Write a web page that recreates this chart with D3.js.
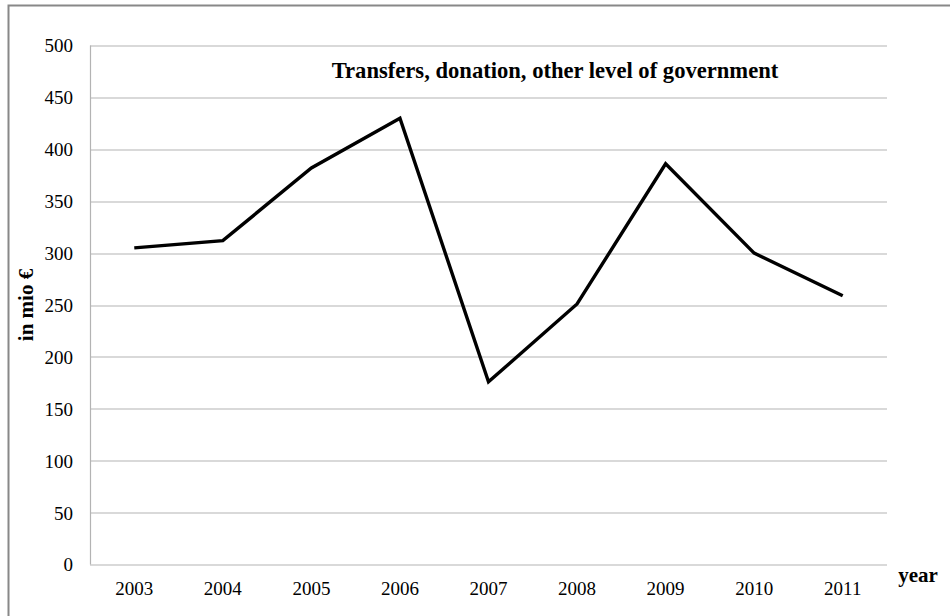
<!DOCTYPE html>
<html>
<head>
<meta charset="utf-8">
<script src="https://d3js.org/d3.v7.min.js"></script>
<style>
  body { margin: 0; background: #fff; }
  svg text { font-family: "Liberation Serif", "Times New Roman", serif; fill: #000; }
</style>
</head>
<body>
<div id="svg-chart"></div>
<script>
// chart data
var years = ["2003", "2004", "2005", "2006", "2007", "2008", "2009", "2010", "2011"];
var transfers = [305, 312, 382, 430, 176, 251, 386, 300, 259];
var yTicks = [0, 50, 100, 150, 200, 250, 300, 350, 400, 450, 500];

var svgWidth = 950, svgHeight = 616;
var chartMargin = { top: 45.5, bottom: 51.5, left: 90, right: 63 };
var chartHeight = svgHeight - chartMargin.top - chartMargin.bottom;
var chartWidth = svgWidth - chartMargin.left - chartMargin.right;

var svg = d3.select("#svg-chart")
    .append("svg")
    .attr("width", svgWidth)
    .attr("height", svgHeight);

// outer frame (right and bottom edge fall off the picture)
svg.append("rect")
    .attr("x", 8.5).attr("y", 5.5)
    .attr("width", 960).attr("height", 640)
    .attr("fill", "none")
    .attr("stroke", "#888")
    .attr("stroke-width", 2);

var chartGroup = svg.append("g")
    .attr("transform", `translate(${chartMargin.left}, ${chartMargin.top})`);

var xScale = d3.scaleBand()
    .domain(years)
    .range([0, chartWidth]);

var yScale = d3.scaleLinear()
    .domain([0, 500])
    .range([chartHeight, 0]);

// gridlines
chartGroup.append("g")
    .selectAll("line")
    .data(yTicks)
    .enter()
    .append("line")
    .attr("x1", 0)
    .attr("x2", chartWidth)
    .attr("y1", d => Math.round(yScale(d)) + 0.5)
    .attr("y2", d => Math.round(yScale(d)) + 0.5)
    .attr("stroke", "#b3b3b3")
    .attr("stroke-width", 1.2);

// left axis line
chartGroup.append("line")
    .attr("x1", 0.5).attr("x2", 0.5)
    .attr("y1", 0).attr("y2", chartHeight)
    .attr("stroke", "#b3b3b3")
    .attr("stroke-width", 1.2);

var yAxis = d3.axisLeft(yScale).tickValues(yTicks).tickSize(0).tickPadding(17);
var yG = chartGroup.append("g").call(yAxis);
yG.select(".domain").remove();
yG.selectAll("text")
    .style("font-family", "'Liberation Serif', serif")
    .style("font-size", "19px")
    .attr("dy", "0.34em");

var xAxis = d3.axisBottom(xScale).tickSize(0).tickPadding(17);
var xG = chartGroup.append("g")
    .attr("transform", `translate(0, ${chartHeight})`)
    .call(xAxis);
xG.select(".domain").remove();
xG.selectAll("text")
    .style("font-family", "'Liberation Serif', serif")
    .style("font-size", "19px");

// the line
var line = d3.line()
    .x((d, i) => xScale(years[i]) + xScale.bandwidth() / 2)
    .y(d => yScale(d));

chartGroup.append("path")
    .datum(transfers)
    .attr("d", line)
    .attr("fill", "none")
    .attr("stroke", "#000")
    .attr("stroke-width", 3.4)
    .attr("stroke-linejoin", "miter");

// title
svg.append("text")
    .attr("x", 555)
    .attr("y", 78)
    .attr("text-anchor", "middle")
    .style("font-weight", "bold")
    .style("font-size", "22.6px")
    .text("Transfers, donation, other level of government");

// y label
svg.append("text")
    .attr("transform", "translate(33, 305) rotate(-90)")
    .attr("text-anchor", "middle")
    .style("font-weight", "bold")
    .style("font-size", "21px")
    .text("in mio €");

// x label
svg.append("text")
    .attr("x", 918)
    .attr("y", 582)
    .attr("text-anchor", "middle")
    .style("font-weight", "bold")
    .style("font-size", "21px")
    .text("year");
</script>
</body>
</html>
